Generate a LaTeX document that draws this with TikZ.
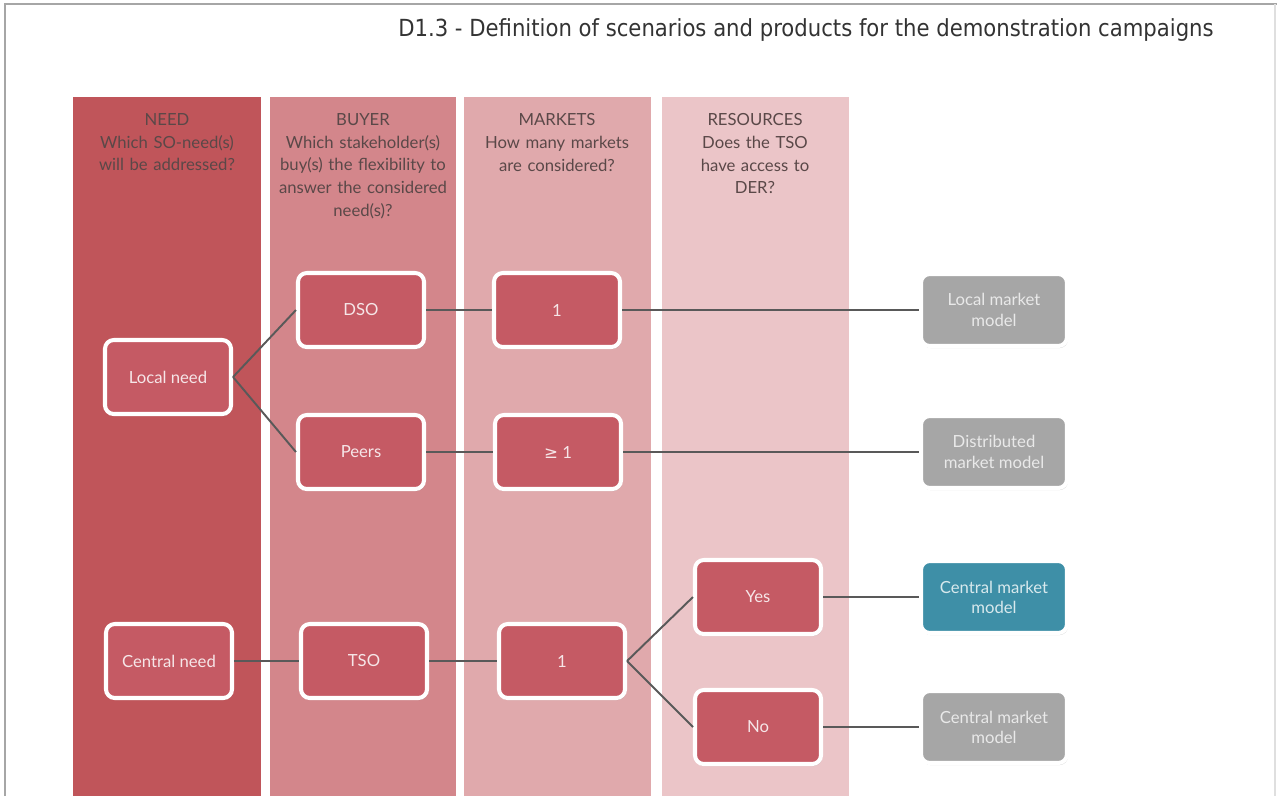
\documentclass[tikz,border=0pt]{standalone}
\usepackage{fontspec}
\setmainfont{Lato}
\newfontfamily\titlefont{DejaVu Sans Condensed}
\newfontfamily\symfont{DejaVu Sans}
\usetikzlibrary{positioning,shadows}

\definecolor{needcol}{RGB}{192,85,90}
\definecolor{buyercol}{RGB}{211,134,139}
\definecolor{marketcol}{RGB}{224,169,172}
\definecolor{rescol}{RGB}{235,197,200}
\definecolor{boxred}{RGB}{197,90,100}
\definecolor{boxgray}{RGB}{166,166,166}
\definecolor{boxteal}{RGB}{62,143,167}
\definecolor{linkcol}{RGB}{89,89,89}
\definecolor{headcol}{RGB}{90,72,72}

\begin{document}
\begin{tikzpicture}[on grid,
	box/.style={rectangle, rounded corners=5pt, draw=white, line width=2.3pt,
		fill=boxred, text=white!85!boxred, minimum width=2.52cm, minimum height=1.48cm,
		align=center, font=\fontsize{9.5}{11.5}\selectfont,
		drop shadow={opacity=0.35, shadow xshift=0.6pt, shadow yshift=-1.2pt}},
	model/.style={box, fill=boxgray, text=white!75!boxgray, minimum width=2.92cm, minimum height=1.44cm},
	head/.style={anchor=north, align=center, text=headcol, text width=3.6cm,
		font=\fontsize{9.5}{13}\selectfont},
	link/.style={draw=linkcol, line width=1.1pt}]
	\useasboundingbox (0,0) rectangle (25.54,-15.92);
	% frame and title
	\draw[gray!70, line width=1pt] (0.1,-15.92) -- (0.1,-0.08) -- (25.54,-0.08);
	\draw[gray!25, line width=0.6pt] (25.5,-0.08) -- (25.5,-15.92);
	\node[font=\titlefont\fontsize{13.4}{15}\selectfont, text=black!80] (title) at (16.12,-0.6)
		{D1.3 - Definition of scenarios and products for the demonstration campaigns};
	% columns
	\fill[needcol] (1.46,-1.94) rectangle (5.22,-15.92);
	\fill[buyercol] (5.40,-1.94) rectangle (9.12,-15.92);
	\fill[marketcol] (9.28,-1.94) rectangle (13.02,-15.92);
	\fill[rescol] (13.24,-1.94) rectangle (16.98,-15.92);
	\node[head] (hneed) at (3.34,-2.14) {NEED\\Which SO-need(s)\\will be addressed?};
	\node[head] (hbuyer) at (7.26,-2.14) {BUYER\\Which stakeholder(s)\\buy(s) the flexibility to\\answer the considered\\need(s)?};
	\node[head] (hmarket) at (11.14,-2.14) {MARKETS\\How many markets\\are considered?};
	\node[head] (hres) at (15.10,-2.14) {RESOURCES\\Does the TSO\\have access to\\DER?};
	% local branch
	\node[box] (local) at (3.36,-7.54) {Local need};
	\node[box] (dso) [above right=1.34cm and 3.86cm of local] {DSO};
	\node[box] (peers) [below=2.84cm of dso] {Peers};
	\node[box] (m1) [right=3.92cm of dso] {1};
	\node[box] (mge) [right=3.94cm of peers] {{\symfont ≥} 1};
	\node[model] (lmm) [right=8.74cm of m1] {Local market\\model};
	\node[model] (dmm) [right=8.72cm of mge] {Distributed\\market model};
	% central branch
	\node[box] (central) at (3.38,-13.22) {Central need};
	\node[box] (tso) [right=3.9cm of central] {TSO};
	\node[box] (m2) [right=3.96cm of tso] {1};
	\node[box] (yes) [above right=1.28cm and 3.92cm of m2] {Yes};
	\node[box] (no) [below=2.6cm of yes] {No};
	\node[model, fill=boxteal, text=white!80!boxteal] (cmm) [right=4.72cm of yes] {Central market\\model};
	\node[model] (cmm2) [right=4.72cm of no] {Central market\\model};
	% connectors
	\path[link]
	(local.east) edge (dso.west)
		edge (peers.west)
	(dso) edge (m1)
	(m1) edge (lmm)
	(peers) edge (mge)
	(mge) edge (dmm)
	(central) edge (tso)
	(tso) edge (m2)
	(m2.east) edge (yes.west)
		edge (no.west)
	(yes) edge (cmm)
	(no) edge (cmm2);
\end{tikzpicture}
\end{document}
